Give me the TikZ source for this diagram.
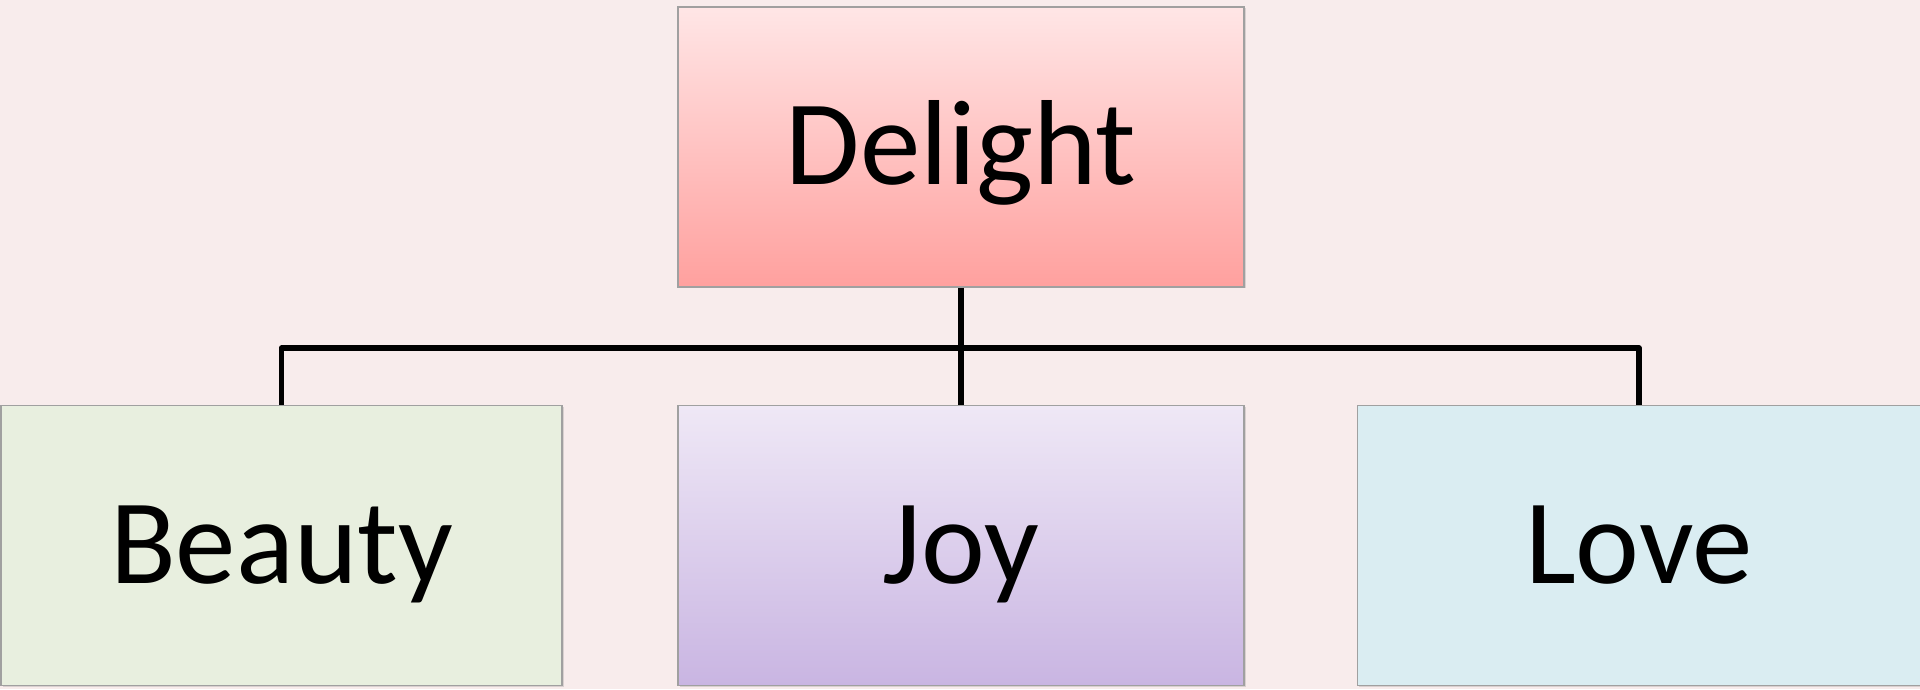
\documentclass[tikz,border=0pt]{standalone}
\usepackage{fontspec}
\setmainfont{Carlito}
\usetikzlibrary{shadows}
\definecolor{bg}{HTML}{F8ECEC}
\definecolor{dtop}{HTML}{FFE6E6}
\definecolor{dbot}{HTML}{FFA09E}
\definecolor{bfill}{HTML}{E8EFDF}
\definecolor{jtop}{HTML}{EFE8F6}
\definecolor{jbot}{HTML}{C9B5E2}
\definecolor{lfill}{HTML}{DAEDF2}
\definecolor{edge}{HTML}{A0A0A0}
\tikzset{
  box/.style={draw=edge, line width=1.5pt, rectangle, minimum width=563pt, minimum height=280pt,
    inner sep=0pt, text height=75pt, text depth=0pt, font=\fontsize{121}{121}\selectfont,
    drop shadow={opacity=0.25, shadow xshift=1.5pt, shadow yshift=-1.5pt}},
  conn/.style={line width=5.5pt, black, line join=round}
}
\begin{document}
\begin{tikzpicture}[x=1pt,y=1pt]
\fill[bg] (0,0) rectangle (1920,689);
\useasboundingbox (0,0) rectangle (1920,689);
\node[box, minimum width=566pt, top color=dtop, bottom color=dbot] (delight) at (961,542) {Delight};
\node[box, minimum width=561pt, fill=bfill] (beauty) at (281.5,143.5) {Beauty};
\node[box, minimum width=566pt, top color=jtop, bottom color=jbot] (joy) at (961,143.5) {Joy};
\node[box, minimum width=563pt, fill=lfill] (love) at (1639,143.5) {Love};
\coordinate (bus) at (961,341);
\draw[conn] (beauty.north) |- (bus) -| (love.north);
\draw[conn] (delight.south) -- (joy.north);
\end{tikzpicture}
\end{document}
